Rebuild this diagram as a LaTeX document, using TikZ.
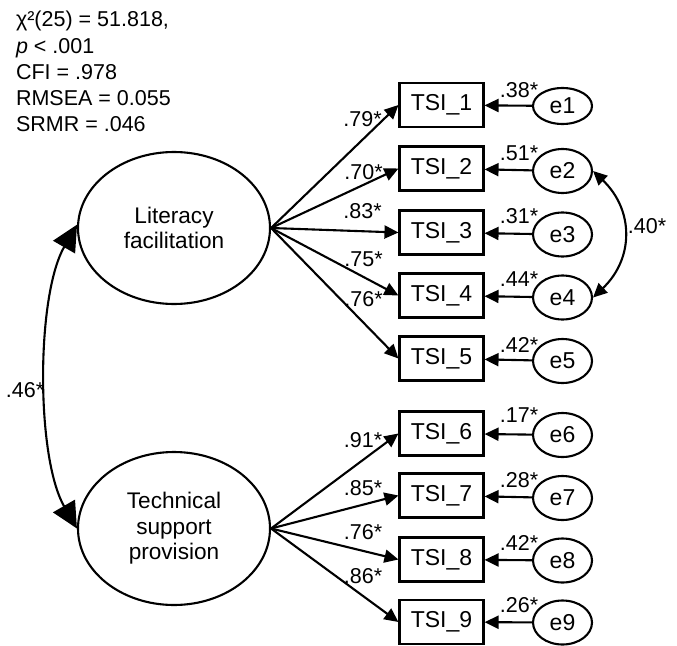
\documentclass[tikz,border=0pt]{standalone}
\usepackage{fontspec}
\setmainfont{Liberation Sans}
\usetikzlibrary{arrows.meta,shapes.geometric}

\begin{document}
\begin{tikzpicture}[x=1pt,y=-1pt,
  font=\fontsize{21.5}{25.5}\selectfont,
  line width=2.1pt,
  every node/.style={inner sep=0pt},
  latent/.style={draw, ellipse, minimum width=192pt, minimum height=152pt, align=center,
    font=\fontsize{22.6}{25.5}\selectfont},
  indicator/.style={draw, rectangle, minimum width=84pt, minimum height=44pt,
    font=\fontsize{23}{25}\selectfont},
  errvar/.style={draw, ellipse, minimum width=59pt, minimum height=44pt,
    font=\fontsize{23}{25}\selectfont},
  path/.style={-{Triangle[length=14pt,width=13pt]}},
  covsmall/.style={{Triangle[length=14pt,width=13pt]}-{Triangle[length=14pt,width=13pt]}},
  covbig/.style={{Triangle[length=26pt,width=25pt]}-{Triangle[length=26pt,width=25pt]}},
  fitline/.style={anchor=base west},
]
\useasboundingbox (0,0) rectangle (677,645);

% fit statistics
\node[fitline] (fit1) at (15,27)  {χ²(25) = 51.818,};
\node[fitline] (fit2) at (15,53)  {\textit{p} < .001};
\node[fitline] (fit3) at (15,79)  {CFI = .978};
\node[fitline] (fit4) at (15,105) {RMSEA = 0.055};
\node[fitline] (fit5) at (15,131) {SRMR = .046};

% latent factors
\node[latent] (lit) at (174,228) {Literacy\\facilitation};
\node[latent, minimum height=153pt] (tech) at (174,528.5) {Technical\\support\\provision};

% indicators
\foreach \i/\y in {1/105,2/168.5,3/232.5,4/295.5,5/358.5,6/433.5,7/495.5,8/559.5,9/622}
  \node[indicator] (t\i) at (441.5,\y) {TSI\_\i};

% error terms
\node[errvar, minimum height=36pt] (e1) at (562.5,106) {e1};
\foreach \i/\y in {2/171,3/234.5,4/297.5,5/361,6/435,7/498,8/560.5,9/622.5}
  \node[errvar] (e\i) at (562.5,\y) {e\i};

% factor loadings
\foreach \i in {1,...,5} \draw[path] (lit.east) -- (t\i.west);
\foreach \i in {6,...,9} \draw[path] (tech.east) -- (t\i.west);

% error paths
\foreach \i in {1,...,9} \draw[path] (e\i) -- (t\i);

% covariances
\draw[covsmall] (e2.east) .. controls +(41,39) and +(41,-39) .. (e4.east);
\draw[covbig] (lit.178) .. controls +(-41,71) and +(-41,-71) .. (tech.west);

% loading coefficients
\node (l1) at (362.5,119.5) {.79*};
\node (l2) at (363.5,172.5) {.70*};
\node (l3) at (362.5,211.5) {.83*};
\node (l4) at (363.5,259.5) {.75*};
\node (l5) at (363.5,299.5) {.76*};
\node (l6) at (363,440.5) {.91*};
\node (l7) at (363,488) {.85*};
\node (l8) at (363,532.5) {.76*};
\node (l9) at (363,576) {.86*};

% error coefficients
\foreach \i/\y/\v in {1/90.5/.38*,2/153/.51*,3/216/.31*,4/279.5/.44*,5/345/.42*,6/415/.17*,7/480/.28*,8/542.5/.42*,9/605.5/.26*}
  \node (r\i) at (519,\y) {\v};

% covariance coefficients
\node (c24) at (647,226) {.40*};
\node (cf) at (25,390) {.46*};
\end{tikzpicture}
\end{document}
